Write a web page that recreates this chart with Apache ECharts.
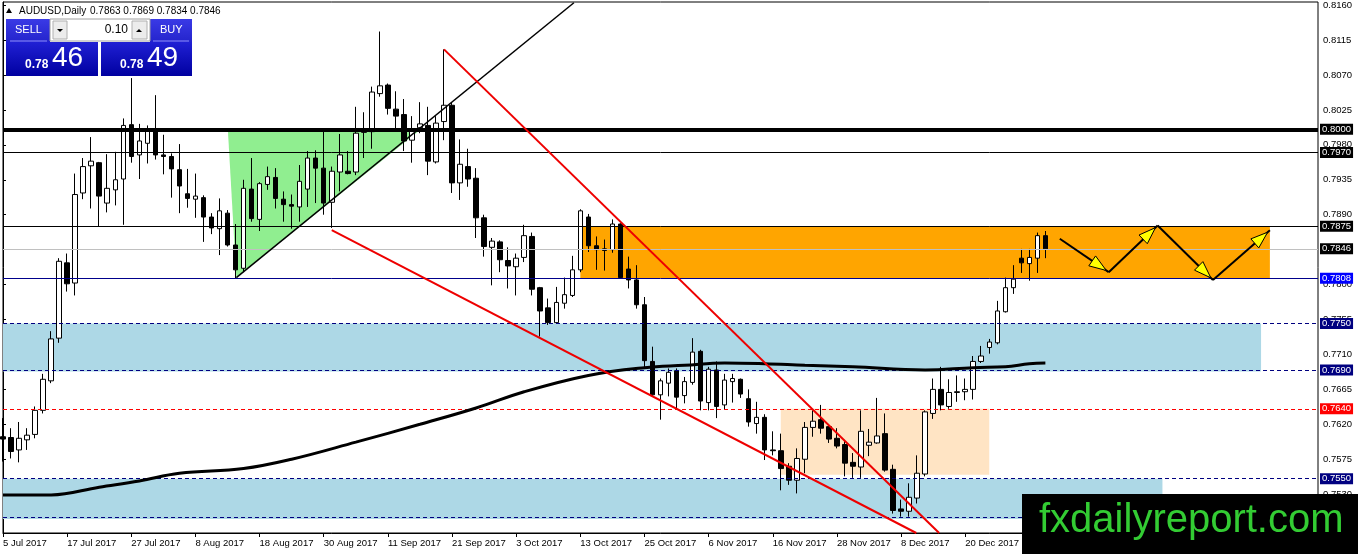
<!DOCTYPE html>
<html><head><meta charset="utf-8">
<script src="https://cdn.jsdelivr.net/npm/echarts@6.0.0/dist/echarts.min.js"></script>
<style>html,body{margin:0;padding:0;background:#fff;overflow:hidden}#c{width:1358px;height:554px}</style>
</head><body><div id="c"></div>
<script>
// ---------- data ----------
const opens = [
.7604,.7603,.7587,.7600,.7607,.7638,.7676,.7731,.7828,.7802,
.7918,.7953,.7957,.7905,.7922,.7936,.8006,.7967,.7982,.8000,
.7967,.7965,.7948,.7917,.7910,.7912,.7887,.7872,.7892,.7851,
.7821,.7923,.7884,.7929,.7938,.7910,.7903,.7900,.7923,.7963,
.7950,.7906,.7945,.7946,.7945,.7996,.7997,.8046,.8057,.8026,
.8019,.7986,.8002,.8005,.7958,.8010,.8031,.7931,.7952,.7937,
.7886,.7848,.7855,.7831,.7823,.7835,.7862,.7796,.7770,.7751,
.7776,.7786,.7819,.7887,.7850,.7846,.7845,.7878,.7820,.7806,
.7774,.7701,.7658,.7673,.7689,.7657,.7674,.7714,.7648,.7690,
.7645,.7675,.7678,.7653,.7621,.7629,.7587,.7586,.7566,.7548,
.7575,.7616,.7626,.7617,.7602,.7594,.7571,.7565,.7593,.7596,
.7608,.7562,.7511,.7508,.7525,.7556,.7634,.7665,.7643,.7661,
.7662,.7665,.7701,.7719,.7725,.7765,.7796,.7834,.7827,.7834,
.7863];
const highs = [
.7628,.7615,.7623,.7615,.7643,.7685,.7740,.7834,.7840,.7943,
.7963,.7990,.7958,.7968,.7971,.8014,.8066,.8007,.8005,.8044,
.7993,.7969,.7981,.7949,.7943,.7915,.7892,.7911,.7896,.7878,
.7935,.7963,.7932,.7952,.7950,.7920,.7916,.7954,.7972,.7973,
.7997,.7952,.7994,.7972,.8029,.8022,.8055,.8126,.8059,.8049,
.8039,.8017,.8035,.8029,.8017,.8103,.8035,.7987,.7975,.7950,
.7890,.7860,.7857,.7848,.7840,.7877,.7867,.7797,.7782,.7797,
.7809,.7837,.7897,.7891,.7862,.7858,.7884,.7879,.7836,.7825,
.7784,.7720,.7679,.7692,.7692,.7681,.7731,.7716,.7694,.7701,
.7685,.7685,.7679,.7665,.7649,.7633,.7611,.7608,.7570,.7589,
.7623,.7638,.7645,.7619,.7615,.7600,.7583,.7638,.7614,.7654,
.7634,.7568,.7523,.7544,.7580,.7638,.7679,.7694,.7678,.7683,
.7679,.7708,.7721,.7730,.7779,.7809,.7825,.7846,.7846,.7867,
.7869];
const lows = [
.7572,.7576,.7571,.7587,.7602,.7634,.7673,.7725,.7791,.7786,
.7910,.7898,.7875,.7893,.7902,.7877,.7957,.7936,.7956,.7961,
.7942,.7912,.7892,.7899,.7886,.7855,.7865,.7838,.7849,.7808,
.7816,.7881,.7869,.7922,.7898,.7881,.7872,.7881,.7900,.7905,
.7890,.7873,.7920,.7942,.7941,.7963,.7975,.8042,.8019,.7998,
.7972,.7957,.7995,.7941,.7956,.7986,.7918,.7909,.7926,.7860,
.7836,.7799,.7816,.7795,.7786,.7829,.7786,.7733,.7748,.7750,
.7769,.7784,.7816,.7842,.7819,.7818,.7841,.7808,.7795,.7769,
.7692,.7656,.7626,.7656,.7641,.7647,.7671,.7638,.7638,.7628,
.7639,.7648,.7654,.7617,.7608,.7574,.7580,.7535,.7542,.7531,
.7557,.7604,.7608,.7596,.7589,.7553,.7551,.7551,.7579,.7595,
.7559,.7505,.7501,.7501,.7518,.7553,.7627,.7638,.7640,.7649,
.7651,.7652,.7699,.7711,.7723,.7764,.7788,.7815,.7805,.7815,
.7834];
const closes = [
.7601,.7585,.7602,.7606,.7638,.7678,.7730,.7830,.7801,.7916,
.7952,.7959,.7914,.7924,.7935,.8005,.7965,.7985,.7999,.7967,
.7965,.7949,.7927,.7911,.7914,.7887,.7873,.7895,.7851,.7819,
.7924,.7885,.7930,.7939,.7911,.7903,.7901,.7933,.7963,.7950,
.7905,.7946,.7967,.7943,.7995,.8001,.8048,.8056,.8027,.8017,
.7985,.7999,.8007,.7959,.8008,.8031,.7931,.7955,.7936,.7886,
.7849,.7856,.7832,.7824,.7834,.7863,.7794,.7766,.7751,.7777,
.7787,.7819,.7895,.7850,.7845,.7844,.7878,.7809,.7806,.7774,
.7702,.7658,.7676,.7687,.7655,.7675,.7713,.7650,.7691,.7643,
.7677,.7679,.7659,.7623,.7629,.7587,.7586,.7563,.7548,.7576,
.7616,.7624,.7615,.7601,.7592,.7570,.7566,.7611,.7597,.7605,
.7561,.7509,.7508,.7526,.7557,.7636,.7665,.7645,.7661,.7662,
.7665,.7701,.7708,.7726,.7766,.7796,.7807,.7828,.7835,.7863,
.7846];
// moving average, sampled at bar indices
const maIdx = [0, 6, 12, 17, 22, 30, 36, 44, 52, 59, 65, 73, 80, 85, 90, 95, 100, 106, 115, 121, 125, 128, 130];
const maVal = [.7529,.7529,.7539,.7547,.7557,.7563,.7575,.7597,.7620,.7641,.7662,.7683,.7693,.7696,.7699,.7698,.7696,.7694,.7690,.7693,.7694,.7698,.7699];
// horizontal levels
const levels = [0.8000, 0.7970, 0.7875, 0.7846, 0.7808, 0.7750, 0.7690, 0.7640, 0.7550, 0.7500];
// price axis tick labels
const yTicks = [0.7530,0.7575,0.7620,0.7665,0.7710,0.7755,0.7800,0.7845,0.7890,0.7935,0.7980,0.8025,0.8070,0.8115,0.8160];
// zones: [fromBar, toBar, topPrice, bottomPrice]
const zoneBlueUpper = [0, 156.9, 0.7750, 0.7688];
const zoneBlueLower = [0, 144.6, 0.7550, 0.7498];
const zoneOrange    = [72, 158, 0.7875, 0.7808];
const zonePeach     = [97, 123, 0.7640, 0.7555];
// triangle vertices
const triBars   = [28.05, 51.9, 29.1];
const triPrices = [0.7998, 0.7998, 0.7809];
// trend lines: [bar1, price1, bar2, price2]
const trendBlack = [29.1, 0.7809, 71.2, 0.8163];
const trendRed1  = [55, 0.8103, 116.75, 0.7480];
const trendRed2  = [41, 0.7870, 113.9, 0.7480];
// projected path (arrows)
const pathBars   = [131.8, 137.9, 144.0, 150.9, 158.0];
const pathPrices = [0.7859, 0.7816, 0.7876, 0.7806, 0.7870];
const quote = {o: '0.7863', h: '0.7869', l: '0.7834', c: '0.7846'};

// ---------- chart ----------
const N = 165;
const mon = ['Jan','Feb','Mar','Apr','May','Jun','Jul','Aug','Sep','Oct','Nov','Dec'];
const categories = [];
{ const d = new Date(Date.UTC(2017, 6, 5));
  while (categories.length < N) {
    const wd = d.getUTCDay();
    if (wd !== 0 && wd !== 6) categories.push(d.getUTCDate() + ' ' + mon[d.getUTCMonth()] + ' ' + d.getUTCFullYear());
    d.setUTCDate(d.getUTCDate() + 1);
  }
}
const candles = opens.map((o, i) => [o, closes[i], lows[i], highs[i]]);
const FONT = 'Liberation Sans, Arial, sans-serif';

const levelStyle = [
  {c:'#000', w:4, t:'solid', bg:'#000'},
  {c:'#000', w:1, t:'solid', bg:'#000'},
  {c:'#000', w:1, t:'solid', bg:'#000'},
  {c:'#c0c0c0', w:1, t:'solid', bg:'#000'},
  {c:'#00008b', w:1, t:'solid', bg:'#0000ff'},
  {c:'#000080', w:1, t:[4,3], bg:'#000080'},
  {c:'#000080', w:1, t:[4,3], bg:'#000080'},
  {c:'#ff0000', w:1, t:[4,3], bg:'#ff0000'},
  {c:'#000080', w:1, t:[4,3], bg:'#000080'},
  {c:'#000080', w:1, t:[4,3], bg:'#000080'}
];

const zones = [zoneBlueUpper, zoneBlueLower, zoneOrange, zonePeach];
const zoneColors = ['#add8e6', '#add8e6', '#ffa500', '#ffe4c4'];

const arrowData = [];
for (let i = 0; i < pathBars.length - 1; i++) arrowData.push([pathBars[i], pathPrices[i], pathBars[i+1], pathPrices[i+1]]);

const blueTop = {type: 'linear', x: 0, y: 0, x2: 0, y2: 1, colorStops: [{offset: 0, color: '#3a3ae6'}, {offset: 1, color: '#2424cc'}]};
const blueBig = {type: 'linear', x: 0, y: 0, x2: 0, y2: 1, colorStops: [{offset: 0, color: '#2020d4'}, {offset: 1, color: '#0000a0'}]};

const chart = echarts.init(document.getElementById('c'), null, {renderer: 'canvas'});
chart.setOption({
  animation: false,
  backgroundColor: '#fff',
  grid: {left: 3, right: 40, top: 2, bottom: 21, show: true, borderColor: '#000', borderWidth: 1, backgroundColor: '#fff'},
  xAxis: [{
    type: 'category', data: categories, boundaryGap: false,
    axisLine: {show: true, lineStyle: {color: '#000', width: 1}},
    axisTick: {show: true, interval: 7, length: 4, lineStyle: {color: '#000'}},
    axisLabel: {interval: 7, align: 'left', margin: 5, fontSize: 9.5, fontFamily: FONT, color: '#000', showMaxLabel: false, showMinLabel: true},
    splitLine: {show: false}
  }, {
    type: 'value', min: 0, max: N - 1, show: false, gridIndex: 0
  }],
  yAxis: [{
    type: 'value', position: 'right', min: 0.7480, max: 0.8164,
    axisLine: {show: true, lineStyle: {color: '#000'}},
    axisTick: {show: true, length: 3, customValues: yTicks, lineStyle: {color: '#000'}},
    axisLabel: {customValues: yTicks, formatter: v => v.toFixed(4), margin: 5, fontSize: 9.5, fontFamily: FONT, color: '#000'},
    splitLine: {show: false}
  }],
  series: [
    {
      type: 'custom', name: 'zones', xAxisIndex: 1, yAxisIndex: 0, z: 1, silent: true, clip: true,
      data: zones,
      renderItem(params, api) {
        const p1 = api.coord([api.value(0), api.value(2)]);
        const p2 = api.coord([api.value(1), api.value(3)]);
        return {type: 'rect', shape: {x: p1[0], y: p1[1], width: p2[0] - p1[0], height: p2[1] - p1[1]},
          style: {fill: zoneColors[params.dataIndex]}};
      }
    },
    {
      type: 'custom', name: 'triangle', xAxisIndex: 1, yAxisIndex: 0, z: 1, silent: true, clip: true,
      data: [[triBars[0], triPrices[0]]],
      renderItem(params, api) {
        const pts = triBars.map((b, i) => api.coord([b, triPrices[i]]));
        return {type: 'polygon', shape: {points: pts}, style: {fill: '#90ee90'}};
      }
    },
    {
      type: 'candlestick', name: 'AUDUSD', xAxisIndex: 0, yAxisIndex: 0, z: 3, clip: true, silent: true,
      barWidth: 5, data: candles,
      itemStyle: {color: '#ffffff', color0: '#000000', borderColor: '#000000', borderColor0: '#000000', borderWidth: 1}
    },
    {
      type: 'line', name: 'levels', xAxisIndex: 1, yAxisIndex: 0, z: 4, data: [], silent: true,
      markLine: {
        silent: true, symbol: ['none', 'none'], animation: false, precision: 4,
        data: levels.map((v, i) => ({
          yAxis: v,
          lineStyle: {color: levelStyle[i].c, width: levelStyle[i].w, type: levelStyle[i].t},
          label: {show: true, position: 'end', distance: 2, formatter: () => v.toFixed(4),
            backgroundColor: levelStyle[i].bg, color: '#fff', padding: [1, 2, 0, 2],
            fontSize: 9.5, fontFamily: FONT}
        }))
      }
    },
    {
      type: 'line', name: 'MA', xAxisIndex: 1, yAxisIndex: 0, z: 5, silent: true,
      data: maIdx.map((x, i) => [x, maVal[i]]), smooth: 0.4, showSymbol: false,
      lineStyle: {color: '#000', width: 3}
    },
    {
      type: 'line', name: 'trendBlack', xAxisIndex: 1, yAxisIndex: 0, z: 5, silent: true, showSymbol: false,
      data: [[trendBlack[0], trendBlack[1]], [trendBlack[2], trendBlack[3]]],
      lineStyle: {color: '#000', width: 1.5}
    },
    {
      type: 'line', name: 'trendRed1', xAxisIndex: 1, yAxisIndex: 0, z: 5, silent: true, showSymbol: false,
      data: [[trendRed1[0], trendRed1[1]], [trendRed1[2], trendRed1[3]]],
      lineStyle: {color: '#ee0000', width: 2}
    },
    {
      type: 'line', name: 'trendRed2', xAxisIndex: 1, yAxisIndex: 0, z: 5, silent: true, showSymbol: false,
      data: [[trendRed2[0], trendRed2[1]], [trendRed2[2], trendRed2[3]]],
      lineStyle: {color: '#ee0000', width: 2}
    },
    {
      type: 'custom', name: 'arrows', xAxisIndex: 1, yAxisIndex: 0, z: 6, silent: true, clip: true,
      data: arrowData,
      renderItem(params, api) {
        const p1 = api.coord([api.value(0), api.value(1)]);
        const p2 = api.coord([api.value(2), api.value(3)]);
        const dx = p2[0] - p1[0], dy = p2[1] - p1[1], L = Math.hypot(dx, dy);
        const ux = dx / L, uy = dy / L;
        const tip = [p2[0] - ux * 3, p2[1] - uy * 3];
        const hl = 17, hw = 6;
        const base = [tip[0] - ux * hl, tip[1] - uy * hl];
        return {type: 'group', children: [
          {type: 'line', shape: {x1: p1[0], y1: p1[1], x2: p2[0], y2: p2[1]}, style: {stroke: '#000', lineWidth: 2}},
          {type: 'polygon', shape: {points: [tip, [base[0] - uy * hw, base[1] + ux * hw], [base[0] + uy * hw, base[1] - ux * hw]]},
            style: {fill: '#ffff00', stroke: '#000', lineWidth: 1}}
        ]};
      }
    }
  ],
  graphic: {elements: [
    // header
    {type: 'polygon', z: 100, shape: {points: [[6, 13], [12, 13], [9, 8]]}, style: {fill: '#000'}},
    {type: 'text', z: 100, x: 19, y: 11, style: {text: 'AUDUSD,Daily', font: '10px ' + FONT, fill: '#000', verticalAlign: 'middle', align: 'left'}},
    {type: 'text', z: 100, x: 90, y: 11, style: {text: quote.o + ' ' + quote.h + ' ' + quote.l + ' ' + quote.c, font: '10px ' + FONT, fill: '#000', verticalAlign: 'middle', align: 'left'}},
    // sell / buy panel
    {type: 'rect', z: 100, shape: {x: 6, y: 19, width: 44, height: 23}, style: {fill: blueTop}},
    {type: 'rect', z: 100, shape: {x: 150, y: 19, width: 42, height: 23}, style: {fill: blueTop}},
    {type: 'line', z: 101, shape: {x1: 10, y1: 41, x2: 47, y2: 41}, style: {stroke: '#8c8cff', lineWidth: 1}},
    {type: 'line', z: 101, shape: {x1: 153, y1: 41, x2: 189, y2: 41}, style: {stroke: '#8c8cff', lineWidth: 1}},
    {type: 'text', z: 101, x: 15, y: 30, style: {text: 'SELL', font: '11px ' + FONT, fill: '#fff', verticalAlign: 'middle'}},
    {type: 'text', z: 101, x: 160, y: 30, style: {text: 'BUY', font: '11px ' + FONT, fill: '#fff', verticalAlign: 'middle'}},
    {type: 'rect', z: 100, shape: {x: 50, y: 19, width: 100, height: 22}, style: {fill: '#fff', stroke: '#a0a0a0', lineWidth: 1}},
    {type: 'rect', z: 101, shape: {x: 53, y: 21, width: 14, height: 18}, style: {fill: '#ececec', stroke: '#b0b0b0', lineWidth: 1}},
    {type: 'polygon', z: 102, shape: {points: [[57, 29], [63, 29], [60, 32]]}, style: {fill: '#000'}},
    {type: 'rect', z: 101, shape: {x: 132, y: 21, width: 15, height: 18}, style: {fill: '#ececec', stroke: '#b0b0b0', lineWidth: 1}},
    {type: 'polygon', z: 102, shape: {points: [[136, 32], [142, 32], [139, 29]]}, style: {fill: '#000'}},
    {type: 'text', z: 101, x: 128, y: 30, style: {text: '0.10', font: '12px ' + FONT, fill: '#000', verticalAlign: 'middle', align: 'right'}},
    {type: 'rect', z: 100, shape: {x: 6, y: 42, width: 92, height: 34}, style: {fill: blueBig}},
    {type: 'rect', z: 100, shape: {x: 101, y: 42, width: 91, height: 34}, style: {fill: blueBig}},
    {type: 'text', z: 101, x: 25, y: 65, style: {text: '0.78', font: 'bold 12px ' + FONT, fill: '#fff', verticalAlign: 'middle', align: 'left'}},
    {type: 'text', z: 101, x: 52, y: 58, style: {text: '46', font: '28px ' + FONT, fill: '#fff', verticalAlign: 'middle', align: 'left'}},
    {type: 'text', z: 101, x: 120, y: 65, style: {text: '0.78', font: 'bold 12px ' + FONT, fill: '#fff', verticalAlign: 'middle', align: 'left'}},
    {type: 'text', z: 101, x: 147, y: 58, style: {text: '49', font: '28px ' + FONT, fill: '#fff', verticalAlign: 'middle', align: 'left'}},
    // watermark
    {type: 'rect', z: 200, shape: {x: 1022, y: 494, width: 336, height: 60}, style: {fill: '#000'}},
    {type: 'text', z: 201, x: 1039, y: 521, style: {text: 'fxdailyreport.com', font: '40px ' + FONT, fill: '#33cc33', verticalAlign: 'middle', align: 'left'}}
  ]}
});
</script>
</body></html>
